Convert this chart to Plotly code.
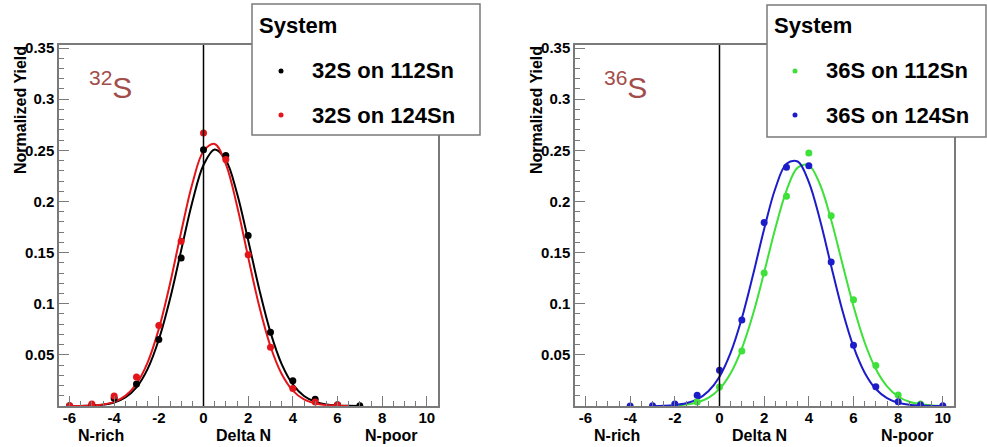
import plotly.graph_objects as go

W, H = 987, 447

# ---------------- data ----------------
# Left panel: 32S beams
x_32_112 = [-6, -5, -4, -3, -2, -1, 0, 1, 2, 3, 4, 5, 6, 7]
y_32_112 = [0.0003, 0.001, 0.0075, 0.0214, 0.065, 0.1446, 0.2505, 0.245, 0.1667, 0.072, 0.0247, 0.0065, 0.0013, 0.0003]
x_32_124 = [-6, -5, -4, -3, -2, -1, 0, 1, 2, 3, 4, 5, 6]
y_32_124 = [0.0003, 0.002, 0.0097, 0.0283, 0.0786, 0.161, 0.267, 0.241, 0.148, 0.0575, 0.017, 0.004, 0.001]

# fitted curves, read at half-unit steps
fx_32_112 = [-6, -5.5, -5, -4.5, -4, -3.5, -3, -2.5, -2, -1.5, -1, -0.5, 0, 0.5, 1, 1.5, 2, 2.5, 3,
             3.5, 4, 4.5, 5, 5.5, 6, 6.5, 7]
fy_32_112 = [0.00003, 0.0001, 0.0004, 0.0012, 0.0034, 0.0083, 0.0182, 0.0363, 0.065, 0.1046, 0.1522,
             0.1995, 0.2357, 0.2509, 0.2406, 0.2081, 0.162, 0.1138, 0.072, 0.041, 0.0211, 0.0098,
             0.0041, 0.0015, 0.0005, 0.0002, 0.0]
fx_32_124 = [-6, -5.5, -5, -4.5, -4, -3.5, -3, -2.5, -2, -1.5, -1, -0.5, 0, 0.5, 1, 1.5, 2, 2.5, 3,
             3.5, 4, 4.5, 5, 5.5, 6, 6.5]
fy_32_124 = [0.00004, 0.0001, 0.0005, 0.0015, 0.004, 0.0099, 0.0217, 0.0427, 0.0754, 0.1196, 0.1702,
             0.2173, 0.2491, 0.2562, 0.2365, 0.1959, 0.1456, 0.0972, 0.0582, 0.0313, 0.0151, 0.0065,
             0.0025, 0.0009, 0.0003, 0.0001]

# Right panel: 36S beams
x_36_112 = [-2, -1, 0, 1, 2, 3, 4, 5, 6, 7, 8, 9]
y_36_112 = [0.001, 0.004, 0.0185, 0.0537, 0.130, 0.205, 0.2475, 0.186, 0.104, 0.0397, 0.0107, 0.002]
x_36_124 = [-4, -3, -2, -1, 0, 1, 2, 3, 4, 5, 6, 7, 8, 9, 10]
y_36_124 = [0.0001, 0.0003, 0.002, 0.0104, 0.035, 0.084, 0.1795, 0.2335, 0.235, 0.1408, 0.0595,
            0.0189, 0.0042, 0.001, 0.0003]

fx_36_112 = [-2, -1.5, -1, -0.5, 0, 0.5, 1, 1.5, 2, 2.5, 3, 3.5, 4, 4.5, 5, 5.5, 6, 6.5, 7, 7.5, 8,
             8.5, 9, 9.5, 10]
fy_36_112 = [0.0005, 0.0014, 0.0034, 0.0079, 0.0167, 0.0321, 0.0562, 0.0897, 0.1307, 0.1738, 0.2107,
             0.2331, 0.2353, 0.2166, 0.1819, 0.1394, 0.0975, 0.0621, 0.0361, 0.0192, 0.0093, 0.0041,
             0.0017, 0.0006, 0.0002]
fx_36_124 = [-3, -2.5, -2, -1.5, -1, -0.5, 0, 0.5, 1, 1.5, 2, 2.5, 3, 3.5, 4, 4.5, 5, 5.5, 6, 6.5, 7,
             7.5, 8, 8.5, 9, 9.5, 10]
fy_36_124 = [0.0001, 0.0003, 0.001, 0.0027, 0.0065, 0.0144, 0.0287, 0.0521, 0.0858, 0.128, 0.173,
             0.2127, 0.2368, 0.2391, 0.219, 0.1819, 0.137, 0.0937, 0.058, 0.0326, 0.0166, 0.0077,
             0.0032, 0.0012, 0.0004, 0.0001, 0.0]

xtick_vals = [-6, -4, -2, 0, 2, 4, 6, 8, 10]
xtick_text = ["-6", "-4", "-2", "0", "2", "4", "6", "8", "10"]
ytick_vals = [0.05, 0.1, 0.15, 0.2, 0.25, 0.3, 0.35]
ytick_text = ["0.05", "0.1", "0.15", "0.2", "0.25", "0.3", "0.35"]

labels_left = ["32S on 112Sn", "32S on 124Sn"]
labels_right = ["36S on 112Sn", "36S on 124Sn"]
legend_title = "System"

BLACK = "#000000"
RED = "#e3151a"
GREEN = "#3ee03a"
BLUE = "#1c1cc8"
NUCL = "#a24d4a"
FRAME = "#7a7a7a"
FONT = "Liberation Sans"

fig = go.Figure()

def add_panel(xa, ya, series):
    for (px, py, fx, fy, col) in series:
        fig.add_trace(go.Scatter(x=fx, y=fy, mode="lines", line=dict(color=col, width=2, shape="spline"),
                                 xaxis=xa, yaxis=ya, showlegend=False, hoverinfo="skip"))
    for (px, py, fx, fy, col) in series:
        fig.add_trace(go.Scatter(x=px, y=py, mode="markers", marker=dict(color=col, size=7),
                                 xaxis=xa, yaxis=ya, showlegend=False))

add_panel("x", "y", [(x_32_112, y_32_112, fx_32_112, fy_32_112, BLACK),
                     (x_32_124, y_32_124, fx_32_124, fy_32_124, RED)])
add_panel("x2", "y2", [(x_36_112, y_36_112, fx_36_112, fy_36_112, GREEN),
                       (x_36_124, y_36_124, fx_36_124, fy_36_124, BLUE)])

def px_x(p):
    return p / W

def px_y(p):
    return 1 - p / H

xdom1 = [px_x(59), px_x(438)]
xdom2 = [px_x(575), px_x(954)]
ydom = [px_y(406), px_y(45)]

tickfont = dict(family=FONT, size=15, color="black", weight="bold")

xcommon = dict(range=[-6.47, 10.5], tickvals=xtick_vals, ticktext=xtick_text, ticks="inside",
               ticklen=10, tickcolor=FRAME, tickwidth=1, showline=True, linecolor=FRAME, linewidth=1.5,
               mirror=True, showgrid=False, zeroline=False, tickfont=tickfont, automargin=False,
               ticklabelstandoff=-3,
               minor=dict(dtick=0.5, tick0=0, ticks="inside", ticklen=5, tickcolor=FRAME, showgrid=False))
ycommon = dict(range=[0, 0.353], tickvals=ytick_vals, ticktext=ytick_text, ticks="inside",
               ticklen=10, tickcolor=FRAME, tickwidth=1, showline=True, linecolor=FRAME, linewidth=1.5,
               mirror=True, showgrid=False, zeroline=False, tickfont=tickfont, automargin=False,
               minor=dict(dtick=0.01, tick0=0, ticks="inside", ticklen=5, tickcolor=FRAME, showgrid=False))

fig.update_layout(
    width=W, height=H, autosize=False,
    margin=dict(l=0, r=0, t=0, b=0, pad=0, autoexpand=False),
    paper_bgcolor="white", plot_bgcolor="white",
    xaxis=dict(domain=xdom1, anchor="y", **xcommon),
    yaxis=dict(domain=ydom, anchor="x", **ycommon),
    xaxis2=dict(domain=xdom2, anchor="y2", **xcommon),
    yaxis2=dict(domain=ydom, anchor="x2", **ycommon),
    showlegend=False,
)

shapes = []
annotations = []

for xa, ya in [("x", "y"), ("x2", "y2")]:
    # vertical line at Delta N = 0
    shapes.append(dict(type="line", xref=xa, yref=ya + " domain", x0=0, x1=0, y0=0, y1=1,
                       line=dict(color="black", width=1.5), layer="above"))
    # axis sub-labels
    for txt, xv in [("N-rich", -4.6), ("Delta N", 1.8), ("N-poor", 8.4)]:
        annotations.append(dict(text=txt, xref=xa, yref="paper", x=xv, y=px_y(435), xanchor="center",
                                yanchor="middle", showarrow=False,
                                font=dict(family=FONT, size=16, color="black", weight="bold")))

# y-axis titles
for xpx in [20, 536]:
    annotations.append(dict(text="Normalized Yield", xref="paper", yref="paper", x=px_x(xpx), y=px_y(44),
                            xanchor="center", yanchor="top", textangle=-90, showarrow=False,
                            font=dict(family=FONT, size=16, color="black", weight="bold")))

# nucleus labels
for txt, xpx in [("<sup>32</sup>S", 87), ("<sup>36</sup>S", 602)]:
    annotations.append(dict(text=txt, xref="paper", yref="paper", x=px_x(xpx), y=px_y(85),
                            xanchor="left", yanchor="middle", showarrow=False,
                            font=dict(family=FONT, size=30, color=NUCL)))

# legend boxes
for (bx0, bx1, by0, by1, tx, dotx, textx, labels, cols) in [
        (252, 480, 4, 135, 257, 281, 310, labels_left, [BLACK, RED]),
        (767, 986, 5, 137, 772, 795, 824, labels_right, [GREEN, BLUE])]:
    shapes.append(dict(type="rect", xref="paper", yref="paper", x0=px_x(bx0), x1=px_x(bx1),
                       y0=px_y(by1), y1=px_y(by0), fillcolor="white",
                       line=dict(color=FRAME, width=1.5), layer="above"))
    annotations.append(dict(text=legend_title, xref="paper", yref="paper", x=px_x(tx), y=px_y(26),
                            xanchor="left", yanchor="middle", showarrow=False,
                            font=dict(family=FONT, size=22, color="black", weight="bold")))
    for lab, col, ypx in zip(labels, cols, [71, 115]):
        shapes.append(dict(type="circle", xref="paper", yref="paper", x0=px_x(dotx - 2.5), x1=px_x(dotx + 2.5),
                           y0=px_y(ypx + 2.5), y1=px_y(ypx - 2.5), fillcolor=col, line=dict(width=0),
                           layer="above"))
        annotations.append(dict(text=lab, xref="paper", yref="paper", x=px_x(textx), y=px_y(ypx),
                                xanchor="left", yanchor="middle", showarrow=False,
                                font=dict(family=FONT, size=22, color="black", weight="bold")))

fig.update_layout(shapes=shapes, annotations=annotations)

fig.write_html("out.html", config={"displayModeBar": False},
               post_script="document.body.style.margin='0';document.body.style.overflow='hidden';")
